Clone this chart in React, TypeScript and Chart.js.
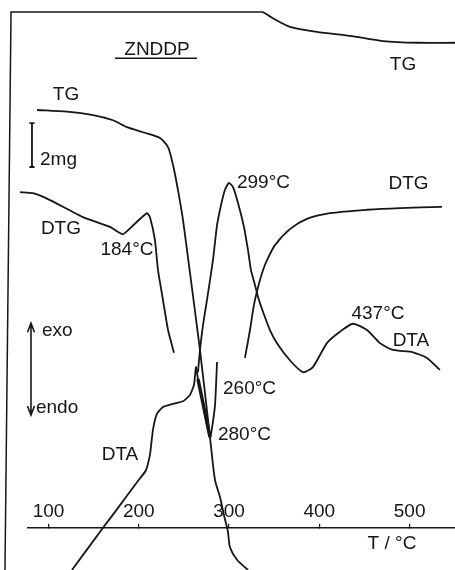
import React, { useEffect, useRef } from "react";
import { Chart, registerables } from "chart.js";

Chart.register(...registerables);

const INK = "#161616";
const FONT = "'Liberation Sans', Arial, sans-serif";

// Temperature axis, °C
const T_MIN = 77.3;
const T_MAX = 550.3;
const T_TICKS = [100, 200, 300, 400, 500];
// Level (recorder units) where the temperature axis is drawn
const AXIS_LEVEL = 7.4;

// Recorder signal is given in % of the chart height (0 = bottom edge)

// TG, mass loss trace
const TG_T = [87.3, 120.5, 149.3, 171.4, 186.9, 204.7, 223.5, 232.4, 237.9, 243.4, 249.0, 255.6, 267.8, 278.9, 284.4, 290.0, 294.4, 298.8, 301.0, 308.8, 321.0];
const TG_Y = [80.7, 80.4, 79.8, 78.9, 77.7, 76.8, 75.8, 74.2, 71.1, 66.7, 61.4, 53.5, 38.6, 23.3, 15.8, 12.8, 9.6, 6.7, 4.0, 1.8, 0.0];

// TG after the pen re-enters at the top of the chart
const TG2_T = [337.6, 348.6, 367.4, 397.4, 433.9, 470.5, 508.2, 550.3];
const TG2_Y = [97.9, 96.8, 95.3, 94.4, 93.7, 92.8, 92.5, 92.5];

// Chart paper edge (top, then down the left side)
const FRAME_T = [337.6, 58.5, 51.8];
const FRAME_Y = [97.9, 97.9, 0.0];

// DTG, before the main rate minimum
const DTG1_T = [68.4, 82.8, 101.7, 138.2, 168.1, 182.5, 198.0, 209.1, 212.4, 217.9, 221.3, 226.8, 232.4, 239.0];
const DTG1_Y = [66.3, 66.1, 64.9, 61.9, 60.2, 58.9, 61.1, 62.6, 61.9, 57.9, 52.6, 47.4, 42.1, 38.1];

// DTG, after the main rate minimum
const DTG2_T = [317.6, 323.2, 327.6, 332.1, 337.6, 343.1, 350.9, 367.4, 386.3, 411.8, 452.8, 489.3, 535.8];
const DTG2_Y = [37.2, 42.1, 46.5, 49.6, 52.6, 54.7, 57.0, 59.8, 61.6, 62.6, 63.2, 63.5, 63.7];

// DTA, rise up to the 260 °C spike and the 280 °C endotherm
const DTA1_T = [126.0, 160.4, 177.0, 198.0, 208.0, 212.4, 215.7, 220.1, 226.8, 236.8, 249.0, 256.7, 261.2, 263.4, 265.6, 278.9, 284.4, 286.7];
const DTA1_Y = [0.0, 7.4, 10.9, 15.4, 17.5, 20.2, 24.6, 27.4, 28.6, 29.1, 29.6, 30.7, 32.5, 35.6, 33.5, 23.3, 28.8, 36.5];

// DTA, falling edge of the 280 °C endotherm (double-traced)
const DTA_DIP_T = [265.6, 278.9];
const DTA_DIP_Y = [33.5, 23.3];

// DTA, 299 °C exotherm onwards
const DTA2_T = [265.6, 267.8, 271.2, 275.6, 282.2, 286.7, 291.1, 295.5, 299.9, 304.3, 309.9, 316.5, 321.0, 324.3, 328.7, 332.1, 337.6, 345.3, 353.1, 367.4, 381.9, 392.9, 408.4, 422.8, 437.2, 452.8, 467.2, 481.6, 503.7, 519.2, 533.6];
const DTA2_Y = [34.7, 38.6, 43.0, 47.4, 54.4, 60.5, 64.0, 66.7, 67.9, 67.2, 64.4, 60.2, 56.1, 52.6, 50.0, 47.9, 45.3, 42.1, 39.8, 36.8, 34.7, 35.6, 39.8, 41.8, 43.2, 42.1, 39.8, 38.6, 38.2, 37.2, 35.1];

type Note = { text: string; t: number; y: number; align: CanvasTextAlign };

const NOTES: Note[] = [
  { text: "ZNDDP", t: 220.2, y: 91.2, align: "center" },
  { text: "TG", t: 492.7, y: 88.6, align: "center" },
  { text: "TG", t: 119.4, y: 83.3, align: "center" },
  { text: "2mg", t: 90.6, y: 71.9, align: "left" },
  { text: "299°C", t: 308.8, y: 67.9, align: "left" },
  { text: "DTG", t: 498.8, y: 67.8, align: "center" },
  { text: "DTG", t: 113.8, y: 59.8, align: "center" },
  { text: "184°C", t: 186.9, y: 56.1, align: "center" },
  { text: "437°C", t: 465.0, y: 44.9, align: "center" },
  { text: "DTA", t: 501.5, y: 40.2, align: "center" },
  { text: "exo", t: 92.8, y: 41.9, align: "left" },
  { text: "endo", t: 86.1, y: 28.4, align: "left" },
  { text: "DTA", t: 179.2, y: 20.2, align: "center" },
  { text: "260°C", t: 293.3, y: 31.8, align: "left" },
  { text: "280°C", t: 287.7, y: 23.7, align: "left" },
  { text: "T / °C", t: 480.5, y: 4.6, align: "center" },
];

// Underline of the sample name, 2 mg scale bar, exo/endo arrow
const TITLE_RULE = { t1: 173.7, t2: 264.5, y: 89.8 };
const MASS_BAR = { t: 81.7, y1: 78.4, y2: 70.7 };
const EXO_ARROW = { t: 80.6, yTop: 43.3, yBottom: 27.2 };

const pts = (xs: number[], ys: number[]) => xs.map((x, i) => ({ x, y: ys[i] }));

const curve = (data: { x: number; y: number }[], width = 1.8, tension = 0.25) => ({
  data,
  borderColor: INK,
  borderWidth: width,
  pointRadius: 0,
  tension,
  fill: false,
  clip: false as const,
});

const notesPlugin = {
  id: "notes",
  afterDraw(chart: Chart) {
    const { ctx } = chart;
    const x = chart.scales.x;
    const y = chart.scales.y;
    ctx.save();
    ctx.fillStyle = INK;
    ctx.strokeStyle = INK;
    ctx.font = `19px ${FONT}`;
    ctx.textBaseline = "middle";
    NOTES.forEach((n) => {
      ctx.textAlign = n.align;
      ctx.fillText(n.text, x.getPixelForValue(n.t), y.getPixelForValue(n.y));
    });

    ctx.lineWidth = 1.5;
    ctx.beginPath();
    ctx.moveTo(x.getPixelForValue(TITLE_RULE.t1), y.getPixelForValue(TITLE_RULE.y));
    ctx.lineTo(x.getPixelForValue(TITLE_RULE.t2), y.getPixelForValue(TITLE_RULE.y));
    ctx.stroke();

    // 2 mg bar
    const bx = x.getPixelForValue(MASS_BAR.t);
    const b1 = y.getPixelForValue(MASS_BAR.y1);
    const b2 = y.getPixelForValue(MASS_BAR.y2);
    ctx.lineWidth = 1.8;
    ctx.beginPath();
    ctx.moveTo(bx, b1);
    ctx.lineTo(bx, b2);
    ctx.moveTo(bx - 2.5, b1);
    ctx.lineTo(bx + 2.5, b1);
    ctx.moveTo(bx - 2.5, b2);
    ctx.lineTo(bx + 2.5, b2);
    ctx.stroke();

    // exo / endo double arrow
    const ax = x.getPixelForValue(EXO_ARROW.t);
    const aTop = y.getPixelForValue(EXO_ARROW.yTop);
    const aBot = y.getPixelForValue(EXO_ARROW.yBottom);
    ctx.lineWidth = 1.6;
    ctx.beginPath();
    ctx.moveTo(ax, aTop);
    ctx.lineTo(ax, aBot);
    ctx.moveTo(ax - 3.5, aTop + 9);
    ctx.lineTo(ax, aTop);
    ctx.lineTo(ax + 3.5, aTop + 9);
    ctx.moveTo(ax - 3.5, aBot - 9);
    ctx.lineTo(ax, aBot);
    ctx.lineTo(ax + 3.5, aBot - 9);
    ctx.stroke();
    ctx.restore();
  },
};

export default function App() {
  const canvasRef = useRef<HTMLCanvasElement | null>(null);

  useEffect(() => {
    const canvas = canvasRef.current;
    if (!canvas) return;
    const chart = new Chart(canvas, {
      type: "line",
      data: {
        datasets: [
          curve(pts(FRAME_T, FRAME_Y), 1.5, 0),
          curve(pts(TG_T, TG_Y)),
          curve(pts(TG2_T, TG2_Y)),
          curve(pts(DTG1_T, DTG1_Y), 1.8, 0.15),
          curve(pts(DTG2_T, DTG2_Y)),
          curve(pts(DTA1_T, DTA1_Y), 1.8, 0.15),
          curve(pts(DTA_DIP_T, DTA_DIP_Y), 3.4, 0),
          curve(pts(DTA2_T, DTA2_Y), 1.8, 0.2),
        ],
      },
      options: {
        animation: false,
        responsive: true,
        maintainAspectRatio: false,
        events: [],
        layout: { padding: { left: 28, right: 0, top: 0, bottom: 0 } },
        plugins: {
          legend: { display: false },
          tooltip: { enabled: false },
        },
        scales: {
          x: {
            type: "linear",
            min: T_MIN,
            max: T_MAX,
            position: { y: AXIS_LEVEL },
            z: 1,
            afterBuildTicks: (scale: any) => {
              scale.ticks = T_TICKS.map((value) => ({ value }));
            },
            grid: {
              display: true,
              drawOnChartArea: false,
              drawTicks: true,
              tickLength: -5,
              color: INK,
              lineWidth: 1.2,
            },
            border: { display: true, color: INK, width: 1.6 },
            ticks: {
              autoSkip: false,
              maxRotation: 0,
              padding: -22,
              color: INK,
              font: { family: FONT, size: 19 },
              showLabelBackdrop: true,
              backdropColor: "#ffffff",
              backdropPadding: { top: 0, bottom: 0, left: 3, right: 3 },
              callback: (v: any) => String(v),
            },
          },
          y: {
            type: "linear",
            display: false,
            min: 0,
            max: 100,
          },
        },
      },
      plugins: [notesPlugin],
    } as any);
    return () => chart.destroy();
  }, []);

  return (
    <div style={{ position: "fixed", left: 0, top: 0, width: 455, height: 570, background: "#fff" }}>
      <canvas ref={canvasRef} />
    </div>
  );
}
